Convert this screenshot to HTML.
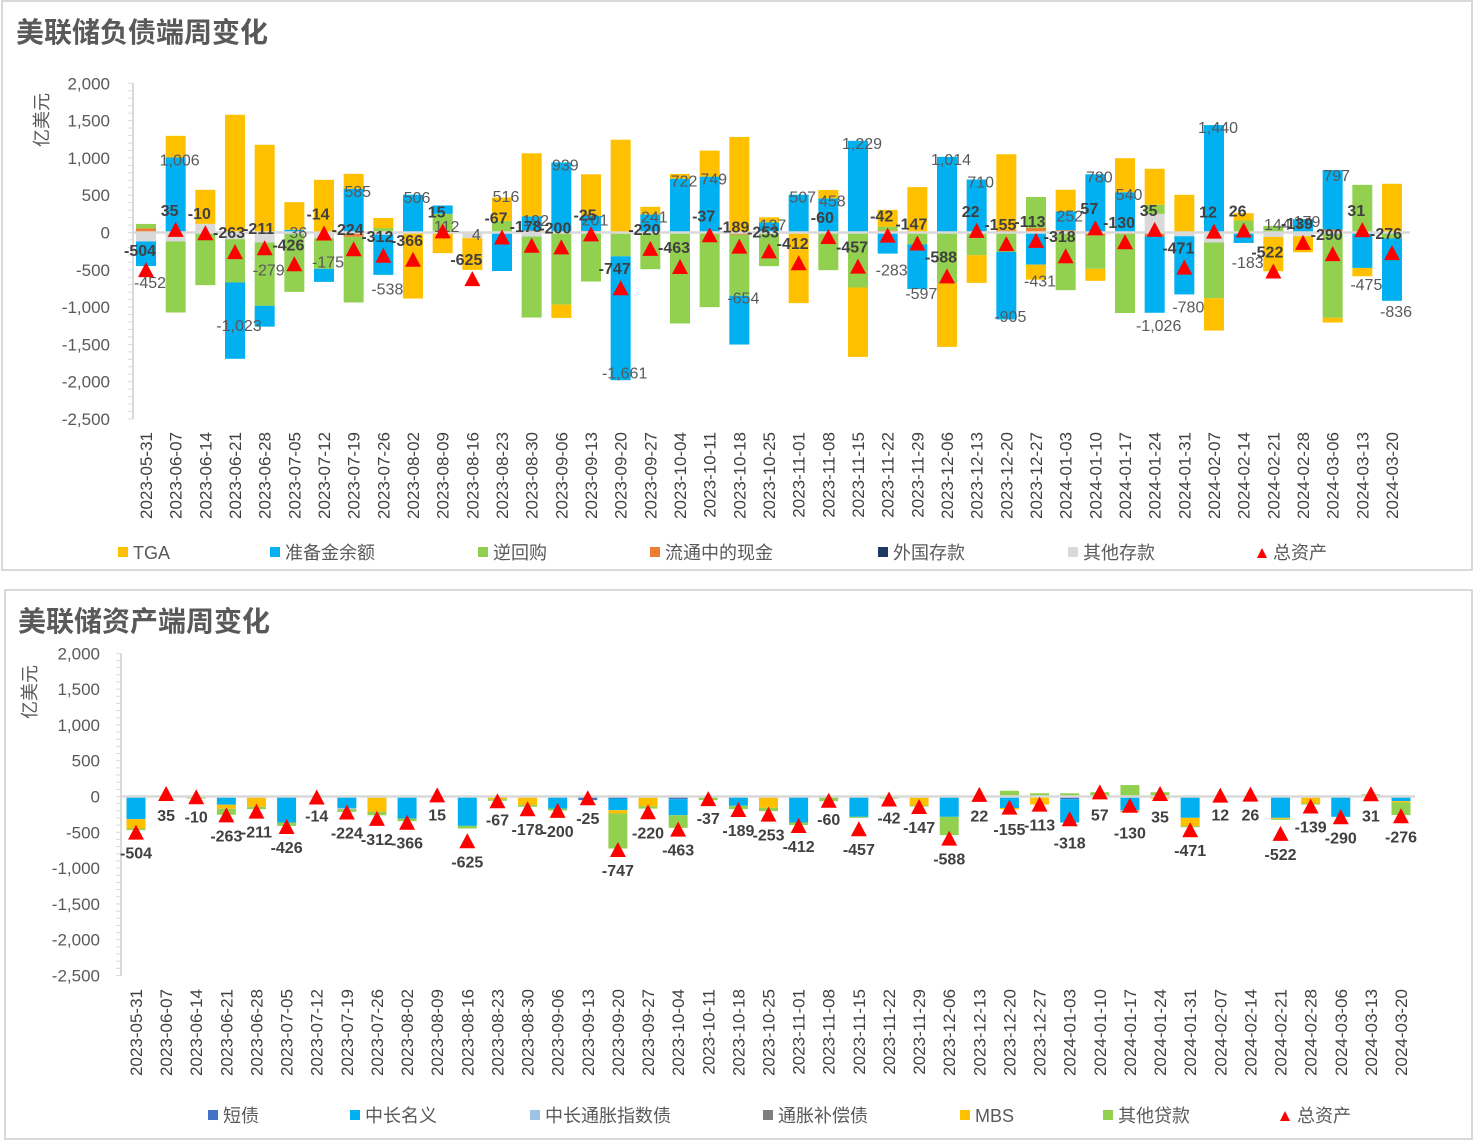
<!DOCTYPE html>
<html><head><meta charset="utf-8"><style>
html,body{margin:0;padding:0;background:#fff;}
svg{display:block;font-family:"Liberation Sans","Noto Sans CJK SC",sans-serif;}
</style></head><body>
<svg id="svg" width="1474" height="1141" viewBox="0 0 1474 1141" xmlns="http://www.w3.org/2000/svg">
<rect x="2" y="1" width="1470" height="569" fill="#fff" stroke="#d9d9d9" stroke-width="2"/>
<rect x="5" y="590" width="1467" height="549" fill="#fff" stroke="#d9d9d9" stroke-width="2"/>
<text x="16" y="42" font-size="28" font-weight="bold" fill="#595959">美联储负债端周变化</text>
<text x="18" y="631" font-size="28" font-weight="bold" fill="#595959">美联储资产端周变化</text>
<g id="topChart"></g>
<g id="botChart"></g>
<g id="legends"></g>
</svg>
<script>
const dates=["2023-05-31","2023-06-07","2023-06-14","2023-06-21","2023-06-28","2023-07-05","2023-07-12","2023-07-19","2023-07-26","2023-08-02","2023-08-09","2023-08-16","2023-08-23","2023-08-30","2023-09-06","2023-09-13","2023-09-20","2023-09-27","2023-10-04","2023-10-11","2023-10-18","2023-10-25","2023-11-01","2023-11-08","2023-11-15","2023-11-22","2023-11-29","2023-12-06","2023-12-13","2023-12-20","2023-12-27","2024-01-03","2024-01-10","2024-01-17","2024-01-24","2024-01-31","2024-02-07","2024-02-14","2024-02-21","2024-02-28","2024-03-06","2024-03-13","2024-03-20"];
const totalAssets=[-504,35,-10,-263,-211,-426,-14,-224,-312,-366,15,-625,-67,-178,-200,-25,-747,-220,-463,-37,-189,-253,-412,-60,-457,-42,-147,-588,22,-155,-113,-318,57,-130,35,-471,12,26,-522,-139,-290,31,-276];
const yTicks=[2000,1500,1000,500,0,-500,-1000,-1500,-2000,-2500];
// liabilities
const tga=[0,290,456,1578,1176,371,706,201,134,-885,-277,-425,313,845,-179,559,1244,103,63,349,1281,67,-947,112,-930,224,608,-849,-371,1019,-201,291,-161,456,483,505,-434,98,-460,-215,-63,-112,653];
const reserves=[-330,1006,0,-1023,-279,36,-175,585,-538,506,112,0,-516,192,939,201,-1661,241,722,749,-654,137,507,458,1229,-283,-597,1014,710,-905,-431,252,780,540,-1026,-780,1440,-140,0,179,797,-475,-836];
const reserveLabels=[-452,1006,null,-1023,-279,36,-175,585,-538,506,112,4,516,192,939,201,-1661,241,722,749,-654,137,507,458,1229,-283,-597,1014,710,-905,-431,252,780,540,-1026,-780,1440,-183,144,179,797,-475,-836];
const rrp=[60,-952,-706,-581,-849,-796,-411,-880,60,0,250,0,156,-1086,-966,-657,-304,-492,-1220,-1001,-818,-451,0,-505,-737,54,-160,-684,-304,-260,416,-773,-447,-1059,121,0,-746,161,89,0,-1144,639,-80];
const currency=[55,0,0,0,0,0,0,-58,0,0,0,0,0,25,0,20,-15,0,0,0,-30,0,0,0,0,25,0,0,0,30,60,30,-40,-20,-50,0,0,0,0,0,40,0,0];
const foreign=[0,0,0,0,0,0,0,0,0,0,0,0,0,0,0,0,0,0,0,0,0,0,0,0,0,0,0,0,0,0,0,0,0,0,0,0,0,0,0,0,0,0,0];
const otherDep=[-120,-120,116,-89,-134,0,-76,0,-30,0,0,-76,0,-54,0,0,0,0,0,0,0,0,0,0,0,0,0,0,0,0,0,0,0,0,250,-50,-134,0,-60,-50,0,0,0];
// assets
const bills=[0,-10,0,-15,0,-10,0,0,0,0,0,0,0,0,0,-51,-28,-10,-37,0,0,0,0,0,0,0,0,0,0,0,0,-37,0,0,0,0,0,0,0,0,0,-14,0];
const notes=[-317,0,0,-100,0,-354,0,-160,0,-307,0,-410,0,0,-168,0,-163,0,-224,0,-130,0,-363,0,-284,0,0,-284,0,-160,0,-326,0,-190,0,-298,0,0,-298,0,-284,0,-65];
const tips=[15,0,0,0,0,0,0,-18,0,0,0,0,0,0,0,0,0,0,0,0,0,0,0,0,0,0,0,0,0,0,0,0,0,-10,0,0,0,0,0,0,0,0,0];
const infComp=[0,0,0,0,0,0,0,0,0,0,0,0,0,0,10,0,0,0,0,0,0,0,0,0,0,0,0,15,0,0,0,0,0,-10,0,0,0,0,0,0,0,0,0];
const mbs=[-130,0,0,-56,-144,0,0,0,-215,0,0,0,-37,-121,0,0,-47,-126,0,0,0,-158,0,0,15,-14,-126,0,-15,-18,-112,0,0,-10,-30,-116,0,0,-14,-98,0,0,-18];
const loans=[-23,15,-28,-84,-33,-47,-15,-37,-47,-37,0,-37,-23,-23,-28,15,-489,-33,-177,-51,-47,-47,-37,-65,-14,-14,-14,-256,15,80,45,45,60,160,60,-15,0,0,-14,-14,10,30,-177];

const NS="http://www.w3.org/2000/svg";
function mk(parent,tag,attrs,name,txt){const e=document.createElementNS(NS,tag);for(const k in attrs)e.setAttribute(k,attrs[k]);


if(txt!==undefined)e.textContent=txt;parent.appendChild(e);return e;}
function fmt(v){const s=Math.abs(v).toLocaleString('en-US');return (v<0?'-':'')+s;}

function drawChart(g,cfg){
  const {x0,dx,zeroY,pxPer,axisX,barW,series,labelX,dateY,rightX}=cfg;
  const X=i=>x0+dx*i;
  const Y=v=>zeroY-v*pxPer;
  mk(g,'line',{x1:axisX,y1:Y(2000),x2:axisX,y2:Y(-2500),stroke:'#d9d9d9','stroke-width':2},'y-axis-line');
  for(let v=-2500;v<=2000;v+=100){mk(g,'line',{x1:axisX-5,y1:Y(v),x2:axisX,y2:Y(v),stroke:'#d9d9d9','stroke-width':1},'y-minor-tick');}
  yTicks.forEach(v=>mk(g,'text',{x:labelX,y:Y(v)+6,'text-anchor':'end','font-size':17,fill:'#595959'},'y-tick-label',fmt(v)));
  dates.forEach((d,i)=>{mk(g,'text',{x:0,y:0,'text-anchor':'end','font-size':17,fill:'#404040',transform:`translate(${X(i)+6},${dateY}) rotate(-90)`},'x-tick-label',d);});
  dates.forEach((d,i)=>{
    let pos=0,neg=0;
    series.forEach(s=>{const v=s.data[i];if(!v)return;let y1,y2;
      if(v>0){y1=Y(pos+v);y2=Y(pos);pos+=v;}else{y1=Y(neg);y2=Y(neg+v);neg+=v;}
      mk(g,'rect',{x:X(i)-barW/2,y:y1,width:barW,height:Math.max(0.5,y2-y1),fill:s.color},'bar-'+s.key);});
  });
  mk(g,'line',{x1:axisX,y1:Y(0),x2:rightX,y2:Y(0),stroke:'#d9d9d9','stroke-width':2.5},'zero-line');
  return {X,Y};
}

// TOP
const topG=document.getElementById('topChart');
const T=drawChart(topG,{x0:146,dx:(1392-146)/42,zeroY:232.5,pxPer:74.6/1000,axisX:133,barW:20,labelX:110,dateY:432,rightX:1410,
 series:[{key:'other-deposits',data:otherDep,color:'#d9d9d9'},{key:'foreign-deposits',data:foreign,color:'#203864'},{key:'currency',data:currency,color:'#ed7d31'},{key:'reverse-repo',data:rrp,color:'#92d050'},{key:'reserves',data:reserves,color:'#00b0f0'},{key:'tga',data:tga,color:'#ffc000'}]});
mk(topG,'text',{x:0,y:0,'font-size':18,fill:'#595959','text-anchor':'middle',transform:'translate(48,120) rotate(-90)'},'y-axis-title','亿美元');
dates.forEach((d,i)=>{
  const x=T.X(i),v=reserveLabels[i];
  if(v!==null){mk(topG,'text',{x:x+4,y:v>=0?T.Y(v)+8:T.Y(v)+22,'text-anchor':'middle','font-size':16,fill:'#595959'},'reserve-label',fmt(v));}
});
dates.forEach((d,i)=>{
  const x=T.X(i),v=totalAssets[i],y=T.Y(v);
  mk(topG,'polygon',{points:`${x-8},${y+7} ${x+8},${y+7} ${x},${y-8}`,fill:'#ff0000'},'total-assets-marker');
  mk(topG,'text',{x:x-6,y:y-14,'text-anchor':'middle','font-size':16,'font-weight':'bold',fill:'#404040'},'total-assets-label',fmt(v));
});

// BOTTOM
const botG=document.getElementById('botChart');
const B=drawChart(botG,{x0:136,dx:(1401-136)/42,zeroY:796.5,pxPer:71.6/1000,axisX:121,barW:19,labelX:100,dateY:989,rightX:1415,
 series:[{key:'t-bills',data:bills,color:'#4472c4'},{key:'nominal-notes',data:notes,color:'#00b0f0'},{key:'tips',data:tips,color:'#9dc3e6'},{key:'inflation-compensation',data:infComp,color:'#7f7f7f'},{key:'mbs',data:mbs,color:'#ffc000'},{key:'other-loans',data:loans,color:'#92d050'}]});
mk(botG,'text',{x:0,y:0,'font-size':18,fill:'#595959','text-anchor':'middle',transform:'translate(36,692) rotate(-90)'},'y-axis-title','亿美元');
dates.forEach((d,i)=>{
  const x=B.X(i),v=totalAssets[i],y=B.Y(v);
  let lo=0;[bills,notes,tips,infComp,mbs,loans].forEach(a=>{if(a[i]<0)lo+=a[i];});
  mk(botG,'polygon',{points:`${x-8},${y+7} ${x+8},${y+7} ${x},${y-8}`,fill:'#ff0000'},'total-assets-marker');
  const ly=Math.max(B.Y(Math.min(lo,v)),y)+(v<-100?26:24);
  mk(botG,'text',{x:x,y:ly,'text-anchor':'middle','font-size':16,'font-weight':'bold',fill:'#404040'},'total-assets-label',fmt(v));
});

// LEGENDS
const L=document.getElementById('legends');
const topLeg=[['TGA','#ffc000',118],['准备金余额','#00b0f0',270],['逆回购','#92d050',478],['流通中的现金','#ed7d31',650],['外国存款','#203864',878],['其他存款','#d9d9d9',1068]];
topLeg.forEach(([t,c,x])=>{mk(L,'rect',{x:x,y:547,width:10,height:10,fill:c},'legend-swatch');mk(L,'text',{x:x+15,y:559,'font-size':18,fill:'#595959'},'legend-entry',t);});
mk(L,'polygon',{points:'1257,558 1267,558 1262,548',fill:'#ff0000'},'legend-swatch');
mk(L,'text',{x:1273,y:559,'font-size':18,fill:'#595959'},'legend-entry','总资产');
const botLeg=[['短债','#4472c4',208],['中长名义','#00b0f0',350],['中长通胀指数债','#9dc3e6',530],['通胀补偿债','#7f7f7f',763],['MBS','#ffc000',960],['其他贷款','#92d050',1103]];
botLeg.forEach(([t,c,x])=>{mk(L,'rect',{x:x,y:1110,width:10,height:10,fill:c},'legend-swatch');mk(L,'text',{x:x+15,y:1122,'font-size':18,fill:'#595959'},'legend-entry',t);});
mk(L,'polygon',{points:'1280,1121 1290,1121 1285,1111',fill:'#ff0000'},'legend-swatch');
mk(L,'text',{x:1297,y:1122,'font-size':18,fill:'#595959'},'legend-entry','总资产');
</script>
</body></html>
